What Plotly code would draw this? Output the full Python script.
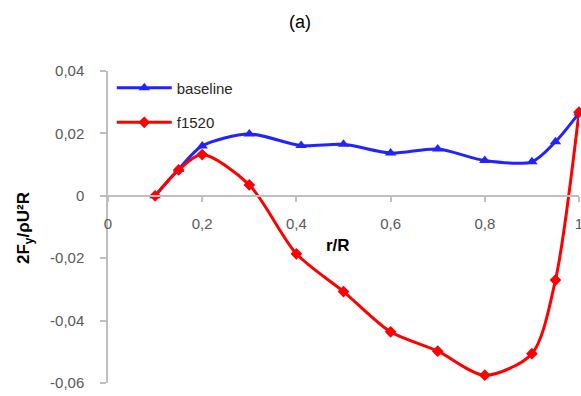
import plotly.graph_objects as go

r_base = [0.1, 0.15, 0.2, 0.3, 0.41, 0.5, 0.6, 0.7, 0.8, 0.9, 0.95, 1.0]
baseline = [0.0, 0.0085, 0.016, 0.0198, 0.0161, 0.0165, 0.0137, 0.015, 0.0113, 0.0109, 0.0173, 0.0265]
r_f = [0.1, 0.15, 0.2, 0.3, 0.4, 0.5, 0.6, 0.7, 0.8, 0.9, 0.95, 1.0]
f1520 = [0.0, 0.0083, 0.0132, 0.0035, -0.0186, -0.0307, -0.0436, -0.0498, -0.0575, -0.0506, -0.027, 0.0268]
x_ticks = [0, 0.2, 0.4, 0.6, 0.8, 1.0]
x_labels = ["0", "0,2", "0,4", "0,6", "0,8", "1"]
y_ticks = [-0.06, -0.04, -0.02, 0, 0.02, 0.04]
y_labels = ["-0,06", "-0,04", "-0,02", "0", "0,02", "0,04"]

blue = "rgb(35,35,255)"
red = "rgb(255,0,0)"

fig = go.Figure()
fig.add_trace(go.Scatter(x=r_base, y=baseline, name="baseline", mode="lines+markers",
                         line=dict(color=blue, width=3, shape="spline", smoothing=0.8),
                         marker=dict(symbol="triangle-up", size=10, color=blue),
                         legendgroup="a", cliponaxis=False))
fig.add_trace(go.Scatter(x=r_f, y=f1520, name="f1520", mode="lines+markers",
                         line=dict(color=red, width=3, shape="spline", smoothing=0.8),
                         marker=dict(symbol="diamond", size=9, color=red),
                         legendgroup="b", cliponaxis=False))

W, H = 581, 396
L, R, T, B = 108, 2, 71, 13
pw = W - L - R
ph = H - T - B

axcol = "#bfbfbf"
tickfont = dict(family="Liberation Sans", size=15, color="#595959")
fig.update_layout(
    template="none",
    width=W, height=H,
    margin=dict(l=L, r=R, t=T, b=B, autoexpand=False),
    plot_bgcolor="white", paper_bgcolor="white",
    showlegend=True,
    legend=dict(x=0.008, y=0.998, xanchor="left", yanchor="top", itemwidth=55,
                font=dict(family="Liberation Sans", size=15, color="#262626"),
                tracegroupgap=12, bgcolor="rgba(0,0,0,0)"),
    xaxis=dict(range=[0, 1], tickvals=x_ticks, ticktext=x_labels, showgrid=False,
               zeroline=False, showline=True, linecolor=axcol, linewidth=1.5,
               ticks="outside", ticklen=5, tickcolor=axcol, tickwidth=1.5,
               tickfont=tickfont, anchor="free", position=0.6, automargin=False,
               ticklabelstandoff=9, ticklabeloverflow="allow"),
    yaxis=dict(range=[-0.06, 0.04], tickvals=y_ticks, ticktext=y_labels, showgrid=False,
               zeroline=False, showline=True, linecolor=axcol, linewidth=1.5,
               ticks="outside", ticklen=6, tickcolor=axcol, tickwidth=1.5,
               tickfont=tickfont, ticklabelstandoff=13, automargin=False),
    annotations=[
        dict(text="(a)", xref="paper", yref="paper", x=(300-L)/pw, y=(H-B-22)/ph,
             xanchor="center", yanchor="middle",
             showarrow=False, font=dict(family="Liberation Sans", size=18, color="black")),
        dict(text="<b>r/R</b>", xref="paper", yref="paper", x=(338-L)/pw, y=(H-B-245)/ph,
             xanchor="center", yanchor="middle",
             showarrow=False, font=dict(family="Liberation Sans", size=17, color="black")),
        dict(text="<b>2F<sub>y</sub>/ρU²R</b>", xref="paper", yref="paper",
             x=(25-L)/pw, y=(H-B-228)/ph, textangle=-90,
             xanchor="center", yanchor="middle",
             showarrow=False, font=dict(family="Liberation Sans", size=17, color="black")),
    ],
)
fig.write_html("out.html", config={"displayModeBar": False},
               post_script="document.body.style.margin='0';document.body.style.overflow='hidden';")
